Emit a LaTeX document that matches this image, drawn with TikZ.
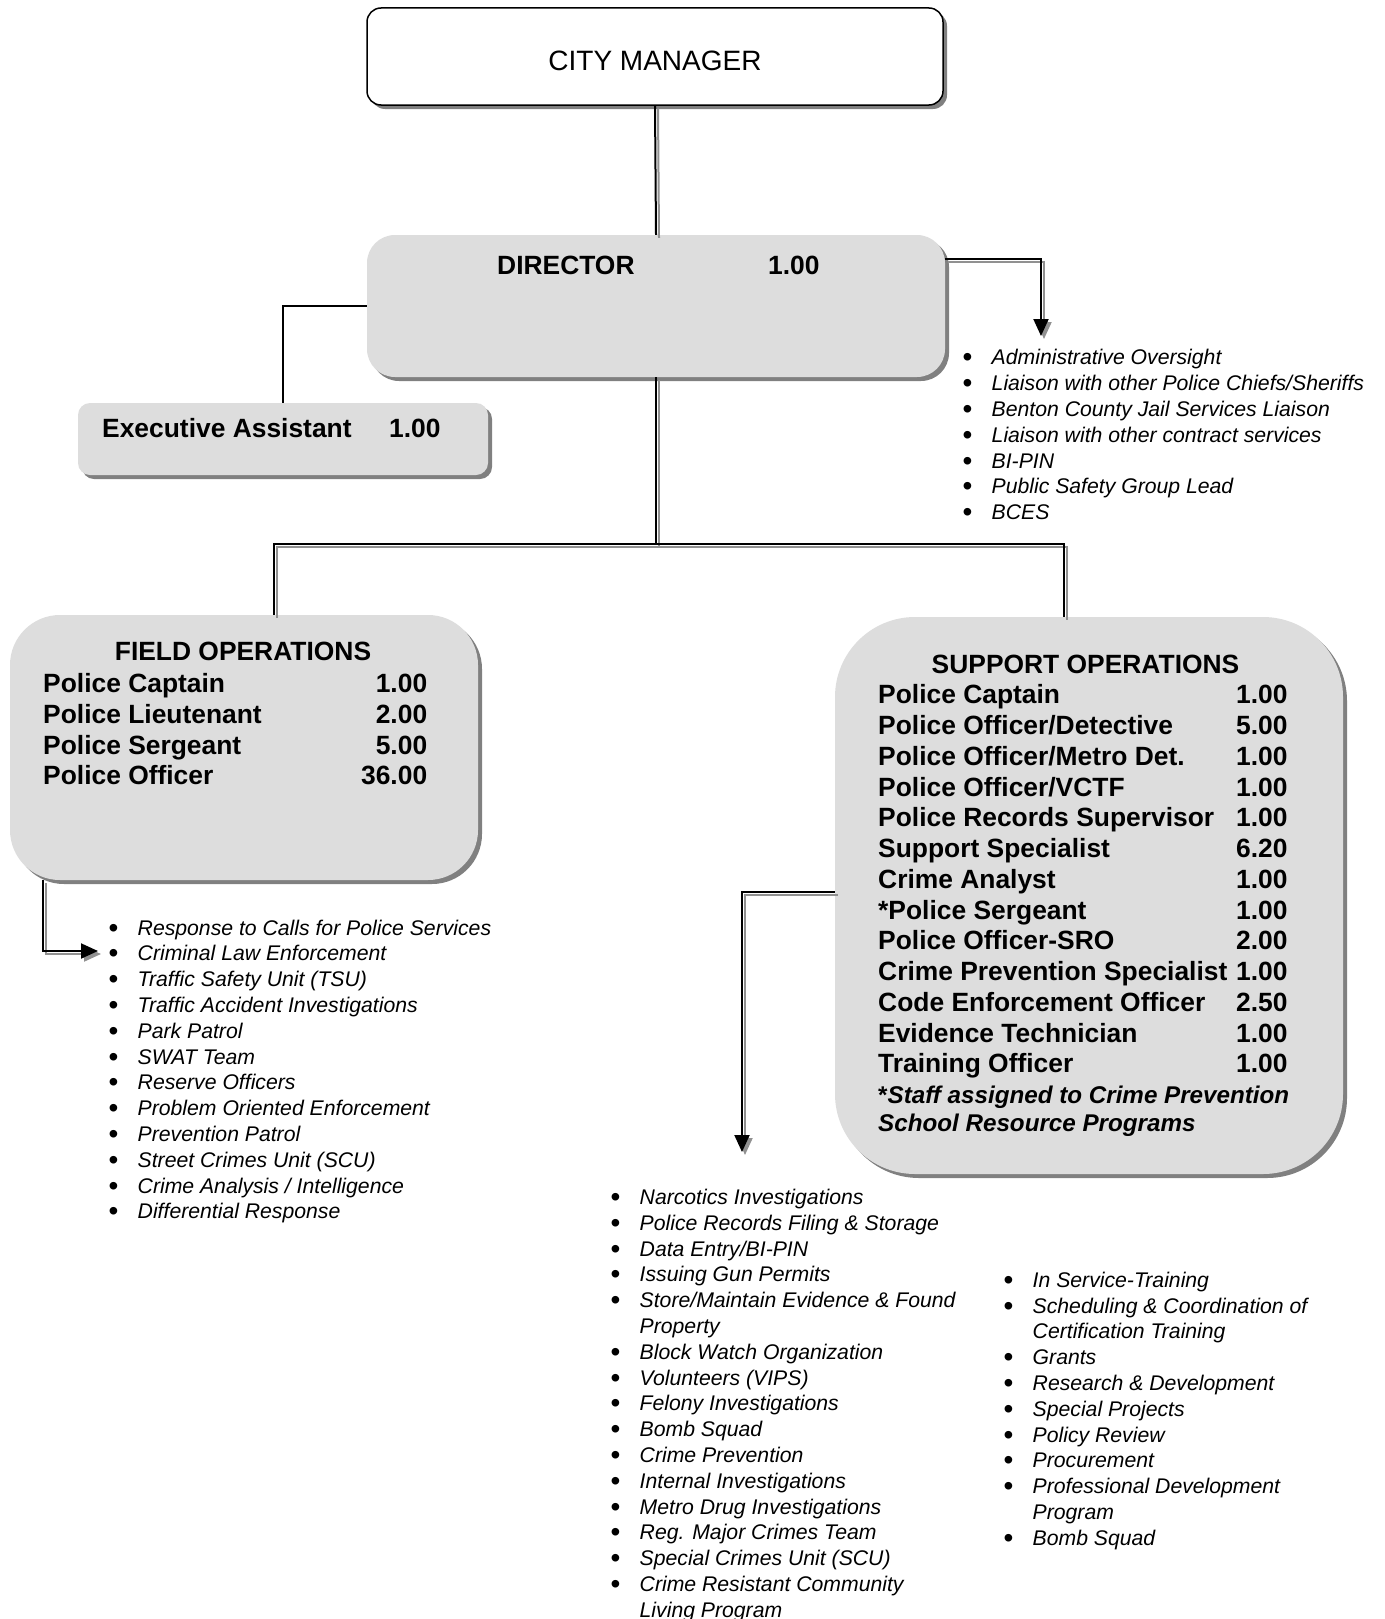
\documentclass[tikz,border=0pt]{standalone}
\usepackage{fontspec}
\setmainfont{Liberation Sans}
\usetikzlibrary{arrows.meta,shadows}

\definecolor{boxgray}{RGB}{221,221,221}
\definecolor{linegray}{RGB}{145,145,145}

\newcommand{\headfont}{\fontsize{26.4}{30.6}\selectfont\bfseries}
\newcommand{\listfont}{\fontsize{21.2}{25.8}\selectfont\itshape}
\newcommand{\bitem}[1]{\makebox[27.5pt][l]{\hspace*{-1.5pt}\raisebox{-2pt}{\upshape\fontsize{28}{0}\selectfont\textbullet}}#1}
\newcommand{\bcont}[1]{\hspace*{27.5pt}#1}
\newcommand{\frow}[2]{\makebox[310pt][l]{#1}\makebox[74pt][r]{#2}}
\newcommand{\srow}[2]{\makebox[358pt][l]{#1}#2}

\begin{document}
\begin{tikzpicture}[x=1pt,y=-1pt,
    box/.style={rectangle,fill=boxgray,inner sep=0pt,
      drop shadow={shadow xshift=4pt,shadow yshift=-4pt,fill=black!50,opacity=1}},
    txt/.style={inner sep=0pt,anchor=west,font=\headfont},
    rows/.style={inner sep=0pt,anchor=north west,align=left,font=\headfont},
    lst/.style={inner sep=0pt,anchor=north west,align=left,font=\listfont},
    conn/.style={draw=black,line width=2pt},
    connshade/.style={draw=linegray,line width=2pt,transform canvas={xshift=3pt,yshift=-3pt}},
    tip/.style={-{Triangle[length=17pt,width=15pt]}}]
  \useasboundingbox[fill=white] (0,0) rectangle (1384,1619);

  % Boxes
  \node[box,fill=white,draw=black,line width=1.5pt,rounded corners=14pt,
    minimum width=576pt,minimum height=97pt,font=\fontsize{28}{30}\selectfont]
    (cm) at (655,56.5) {\raisebox{-13.5pt}[0pt][0pt]{CITY MANAGER}};
  \node[box,rounded corners=28pt,minimum width=578pt,minimum height=142pt] (dir) at (656,306) {};
  \node[box,rounded corners=12pt,minimum width=410pt,minimum height=72pt] (ea) at (283,439) {};
  \node[box,rounded corners=50pt,minimum width=468pt,minimum height=265pt] (fo) at (244,747.5) {};
  \node[box,rounded corners=80pt,minimum width=508pt,minimum height=557pt] (so) at (1089,895.5) {};

  % Box texts
  \node[txt] (dirtitle) at (497,265) {DIRECTOR};
  \node[txt] (dirfte) at (768,265) {1.00};
  \node[txt] (eatitle) at (102,428) {Executive Assistant};
  \node[txt] (eafte) at (389,428) {1.00};
  \node[txt,anchor=center] (fotitle) at (243,651) {FIELD OPERATIONS};
  \node[rows] (forows) at (43,673.5) {\frow{Police Captain}{1.00}\\
    \frow{Police Lieutenant}{2.00}\\
    \frow{Police Sergeant}{5.00}\\
    \frow{Police Officer}{36.00}};
  \node[txt,anchor=center] (sotitle) at (1085.5,664) {SUPPORT OPERATIONS};
  \node[rows,font=\fontsize{26.4}{30.75}\selectfont\bfseries] (sorows) at (878,684.5) {\srow{Police Captain}{1.00}\\
    \srow{Police Officer/Detective}{5.00}\\
    \srow{Police Officer/Metro Det.}{1.00}\\
    \srow{Police Officer/VCTF}{1.00}\\
    \srow{Police Records Supervisor}{1.00}\\
    \srow{Support Specialist}{6.20}\\
    \srow{Crime Analyst}{1.00}\\
    \srow{*Police Sergeant}{1.00}\\
    \srow{Police Officer-SRO}{2.00}\\
    \srow{Crime Prevention Specialist}{1.00}\\
    \srow{Code Enforcement Officer}{2.50}\\
    \srow{Evidence Technician}{1.00}\\
    \srow{Training Officer}{1.00}};
  \node[rows,font=\fontsize{24.2}{28}\selectfont\bfseries\itshape] (sonote) at (878,1085.5)
    {{\upshape*}Staff assigned to Crime Prevention\\School Resource Programs};

  % Duty lists
  \node[lst] (adminlist) at (964,349.4) {\bitem{Administrative Oversight}\\
    \bitem{Liaison with other Police Chiefs/Sheriffs}\\
    \bitem{Benton County Jail Services Liaison}\\
    \bitem{Liaison with other contract services}\\
    \bitem{BI-PIN}\\
    \bitem{Public Safety Group Lead}\\
    \bitem{BCES}};
  \node[lst] (fieldlist) at (110,919.6) {\bitem{Response to Calls for Police Services}\\
    \bitem{Criminal Law Enforcement}\\
    \bitem{Traffic Safety Unit (TSU)}\\
    \bitem{Traffic Accident Investigations}\\
    \bitem{Park Patrol}\\
    \bitem{SWAT Team}\\
    \bitem{Reserve Officers}\\
    \bitem{Problem Oriented Enforcement}\\
    \bitem{Prevention Patrol}\\
    \bitem{Street Crimes Unit (SCU)}\\
    \bitem{Crime Analysis / Intelligence}\\
    \bitem{Differential Response}};
  \node[lst] (supplist) at (612,1189) {\bitem{Narcotics Investigations}\\
    \bitem{Police Records Filing \& Storage}\\
    \bitem{Data Entry/BI-PIN}\\
    \bitem{Issuing Gun Permits}\\
    \bitem{Store/Maintain Evidence \& Found}\\
    \bcont{Property}\\
    \bitem{Block Watch Organization}\\
    \bitem{Volunteers (VIPS)}\\
    \bitem{Felony Investigations}\\
    \bitem{Bomb Squad}\\
    \bitem{Crime Prevention}\\
    \bitem{Internal Investigations}\\
    \bitem{Metro Drug Investigations}\\
    \bitem{Reg. Major Crimes Team}\\
    \bitem{Special Crimes Unit (SCU)}\\
    \bitem{Crime Resistant Community}\\
    \bcont{Living Program}};
  \node[lst] (trainlist) at (1005,1271.7) {\bitem{In Service-Training}\\
    \bitem{Scheduling \& Coordination of}\\
    \bcont{Certification Training}\\
    \bitem{Grants}\\
    \bitem{Research \& Development}\\
    \bitem{Special Projects}\\
    \bitem{Policy Review}\\
    \bitem{Procurement}\\
    \bitem{Professional Development}\\
    \bcont{Program}\\
    \bitem{Bomb Squad}};

  % Chain of command
  \coordinate (bus) at (656,544);
  \draw[connshade] (cm.south) -- (dir.north);
  \draw[conn] (cm.south) -- (dir.north);
  \draw[conn,line width=1.5pt] (dir.west) -| (ea.north);
  \draw[connshade] (dir.south) -- (bus);
  \draw[conn] (dir.south) -- (bus);
  \draw[connshade] ([xshift=30pt]fo.north) |- (bus) -| ([xshift=-25pt]so.north);
  \draw[conn] ([xshift=30pt]fo.north) |- (bus) -| ([xshift=-25pt]so.north);

  % Arrows to the duty lists
  \coordinate (admintip) at (1041,336);
  \coordinate (fieldtip) at (98,951);
  \coordinate (supptip) at (742,1152);
  \draw[connshade,tip] ([yshift=47pt]dir.east) -| (admintip);
  \draw[conn,tip] ([yshift=47pt]dir.east) -| (admintip);
  \draw[connshade,tip] ([xshift=33pt]fo.south west) |- (fieldtip);
  \draw[conn,tip] ([xshift=33pt]fo.south west) |- (fieldtip);
  \draw[connshade,tip] ([yshift=4pt]so.west) -| (supptip);
  \draw[conn,tip] ([yshift=4pt]so.west) -| (supptip);
\end{tikzpicture}
\end{document}
